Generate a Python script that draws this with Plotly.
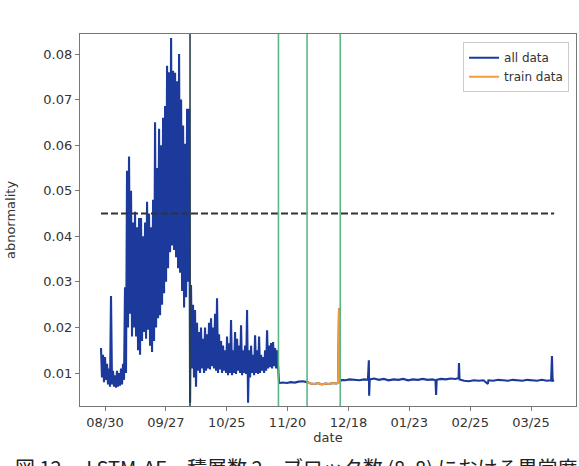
import numpy as np
import plotly.graph_objects as go

# ---------------- data ----------------
tick_pos = [0, 100, 200, 300, 400, 500, 600, 700]
tick_labels = ["08/30", "09/27", "10/25", "11/20", "12/18", "01/23", "02/25", "03/25"]

# dense early segment: sample step between successive (high, low) pairs
seg_step = 3.29
segA_start = -6.6
segA_hi = [0.0155, 0.0140, 0.0135, 0.0120, 0.0110, 0.0269, 0.0105, 0.0095, 0.0105, 0.0100,
           0.0110, 0.0120, 0.0288, 0.0544, 0.0575, 0.0500, 0.0430, 0.0454, 0.0420, 0.0440,
           0.0440, 0.0400, 0.0430, 0.0476, 0.0450, 0.0420, 0.0480, 0.0650, 0.0550, 0.0636,
           0.0600, 0.0660, 0.0686, 0.0774, 0.0760, 0.0835, 0.0763, 0.0759, 0.0740, 0.0800,
           0.0700, 0.0643, 0.0603, 0.0680, 0.0680]
segA_lo = [0.0090, 0.0080, 0.0085, 0.0075, 0.0070, 0.0075, 0.0070, 0.0068, 0.0070, 0.0072,
           0.0075, 0.0085, 0.0100, 0.0200, 0.0230, 0.0180, 0.0200, 0.0180, 0.0150, 0.0140,
           0.0170, 0.0190, 0.0175, 0.0195, 0.0160, 0.0146, 0.0170, 0.0200, 0.0220, 0.0227,
           0.0250, 0.0275, 0.0300, 0.0330, 0.0365, 0.0380, 0.0370, 0.0354, 0.0330, 0.0320,
           0.0280, 0.0244, 0.0266, 0.0300, 0.0035]

segB_start = 141.3
segB_hi = [0.0293, 0.0250, 0.0238, 0.0210, 0.0190, 0.0200, 0.0175, 0.0200, 0.0185, 0.0210,
           0.0220, 0.0200, 0.0230, 0.0264, 0.0185, 0.0170, 0.0160, 0.0150, 0.0180, 0.0165,
           0.0216, 0.0150, 0.0190, 0.0175, 0.0160, 0.0205, 0.0150, 0.0160, 0.0238, 0.0150,
           0.0160, 0.0140, 0.0183, 0.0150, 0.0180, 0.0140, 0.0135, 0.0150, 0.0194, 0.0160,
           0.0166, 0.0168, 0.0155, 0.0150]
segB_lo = [0.0110, 0.0090, 0.0070, 0.0105, 0.0100, 0.0110, 0.0100, 0.0105, 0.0110, 0.0108,
           0.0115, 0.0110, 0.0105, 0.0100, 0.0108, 0.0100, 0.0105, 0.0100, 0.0095, 0.0100,
           0.0095, 0.0100, 0.0098, 0.0105, 0.0100, 0.0095, 0.0100, 0.0098, 0.0035, 0.0090,
           0.0100, 0.0095, 0.0100, 0.0098, 0.0100, 0.0105, 0.0100, 0.0105, 0.0110, 0.0113,
           0.0110, 0.0115, 0.0110, 0.0100]

# flat later segment (sample index, value)
flat_x = [286, 292, 299, 305, 312, 318, 325, 332, 338, 344, 350, 356, 362, 368, 374, 380,
          383, 384.5, 386, 388, 395, 402, 410, 418, 426, 432, 433.5, 434, 435, 442, 450,
          458, 466, 474, 482, 490, 498, 506, 514, 522, 530, 538, 543, 544, 545, 552, 560,
          568, 576, 581, 581.6, 582.5, 590, 598, 606, 614, 622, 629, 630, 638, 646, 654,
          662, 670, 678, 686, 694, 702, 710, 718, 726, 733, 734.4, 735.5, 738]
flat_y = [0.0078, 0.0079, 0.0078, 0.0080, 0.0079, 0.0081, 0.0082, 0.0080, 0.0077, 0.0076,
          0.0078, 0.0075, 0.0077, 0.0076, 0.0078, 0.0077, 0.0078, 0.0242, 0.0080, 0.0085,
          0.0084, 0.0086, 0.0085, 0.0084, 0.0086, 0.0085, 0.0128, 0.0050, 0.0086, 0.0088,
          0.0085, 0.0087, 0.0084, 0.0086, 0.0085, 0.0087, 0.0084, 0.0086, 0.0085, 0.0087,
          0.0085, 0.0086, 0.0084, 0.0052, 0.0085, 0.0087, 0.0086, 0.0088, 0.0087, 0.0089,
          0.0122, 0.0086, 0.0083, 0.0082, 0.0084, 0.0083, 0.0084, 0.0076, 0.0084, 0.0083,
          0.0085, 0.0084, 0.0083, 0.0085, 0.0084, 0.0083, 0.0085, 0.0084, 0.0083, 0.0085,
          0.0083, 0.0084, 0.0137, 0.0083, 0.0084]

threshold = 0.045
boundary_x = [139.7, 285.0, 332.0, 386.5]   # period boundaries (sample index)
train_range = (332.0, 386.5)

# ---------------- assemble series ----------------
def interleave(start, hi, lo):
    xs, ys = [], []
    for i, (h, l) in enumerate(zip(hi, lo)):
        xs += [start + i * seg_step, start + (i + 0.5) * seg_step]
        ys += [h, l]
    return xs, ys

ax, ay = interleave(segA_start, segA_hi, segA_lo)
bx, by = interleave(segB_start, segB_hi, segB_lo)
all_x = np.array(ax + bx + flat_x)
all_y = np.array(ay + by + flat_y)
mask = (all_x >= train_range[0]) & (all_x <= train_range[1])
train_x = all_x[mask]
train_y = all_y[mask]

BLUE = "#1c3a9c"
ORANGE = "#f39c3c"
GREEN = "#5cb882"
DARK = "#2a4048"

fig = go.Figure()
fig.add_trace(go.Scatter(x=all_x, y=all_y, mode="lines", name="all data",
                         line=dict(color=BLUE, width=2.1)))
fig.add_trace(go.Scatter(x=train_x, y=train_y, mode="lines", name="train data",
                         line=dict(color=ORANGE, width=2.1)))

# threshold line spanning the data
fig.add_shape(type="line", x0=all_x.min(), x1=all_x.max(), y0=threshold, y1=threshold,
              xref="x", yref="y", line=dict(color="#333333", width=1.8, dash="7px,3px"))

for i, bxv in enumerate(boundary_x):
    fig.add_shape(type="line", x0=bxv, x1=bxv, y0=0, y1=1, xref="x", yref="paper",
                  line=dict(color=DARK if i == 0 else GREEN, width=1.6))

axis_common = dict(showline=True, linecolor="#777777", linewidth=1.2, mirror=True,
                   ticks="outside", ticklen=4, tickcolor="#777777", showgrid=False,
                   zeroline=False, tickfont=dict(family="DejaVu Sans", size=13, color="#333333"))

fig.update_xaxes(range=[-41.1, 773.9], tickmode="array", tickvals=tick_pos,
                 ticktext=tick_labels, title=dict(text="date", standoff=2,
                 font=dict(family="DejaVu Sans", size=13, color="#333333")), **axis_common)
fig.update_yaxes(range=[0.00276, 0.08439], tickmode="array",
                 tickvals=[0.01, 0.02, 0.03, 0.04, 0.05, 0.06, 0.07, 0.08],
                 ticktext=["0.01", "0.02", "0.03", "0.04", "0.05", "0.06", "0.07", "0.08"],
                 title=dict(text="abnormality", standoff=24,
                 font=dict(family="DejaVu Sans", size=13, color="#333333")), **axis_common)

fig.add_annotation(text="図 12　 LSTM-AE　積層数 2，ブロック数 (8, 8) における異常度",
                   xref="paper", yref="paper", x=-0.135, y=-0.166, xanchor="left",
                   yanchor="middle", showarrow=False,
                   font=dict(family="Noto Sans CJK JP", size=20, color="#222222"))

fig.update_layout(width=579, height=466, margin=dict(l=80, r=3, t=34, b=60),
                  paper_bgcolor="white", plot_bgcolor="white", showlegend=True,
                  legend=dict(x=0.986, y=0.978, xanchor="right", yanchor="top",
                              bordercolor="#cccccc", borderwidth=1, bgcolor="white",
                              font=dict(family="DejaVu Sans", size=12, color="#333333"),
                              itemwidth=30, tracegroupgap=0))

fig.write_html("out.html")
